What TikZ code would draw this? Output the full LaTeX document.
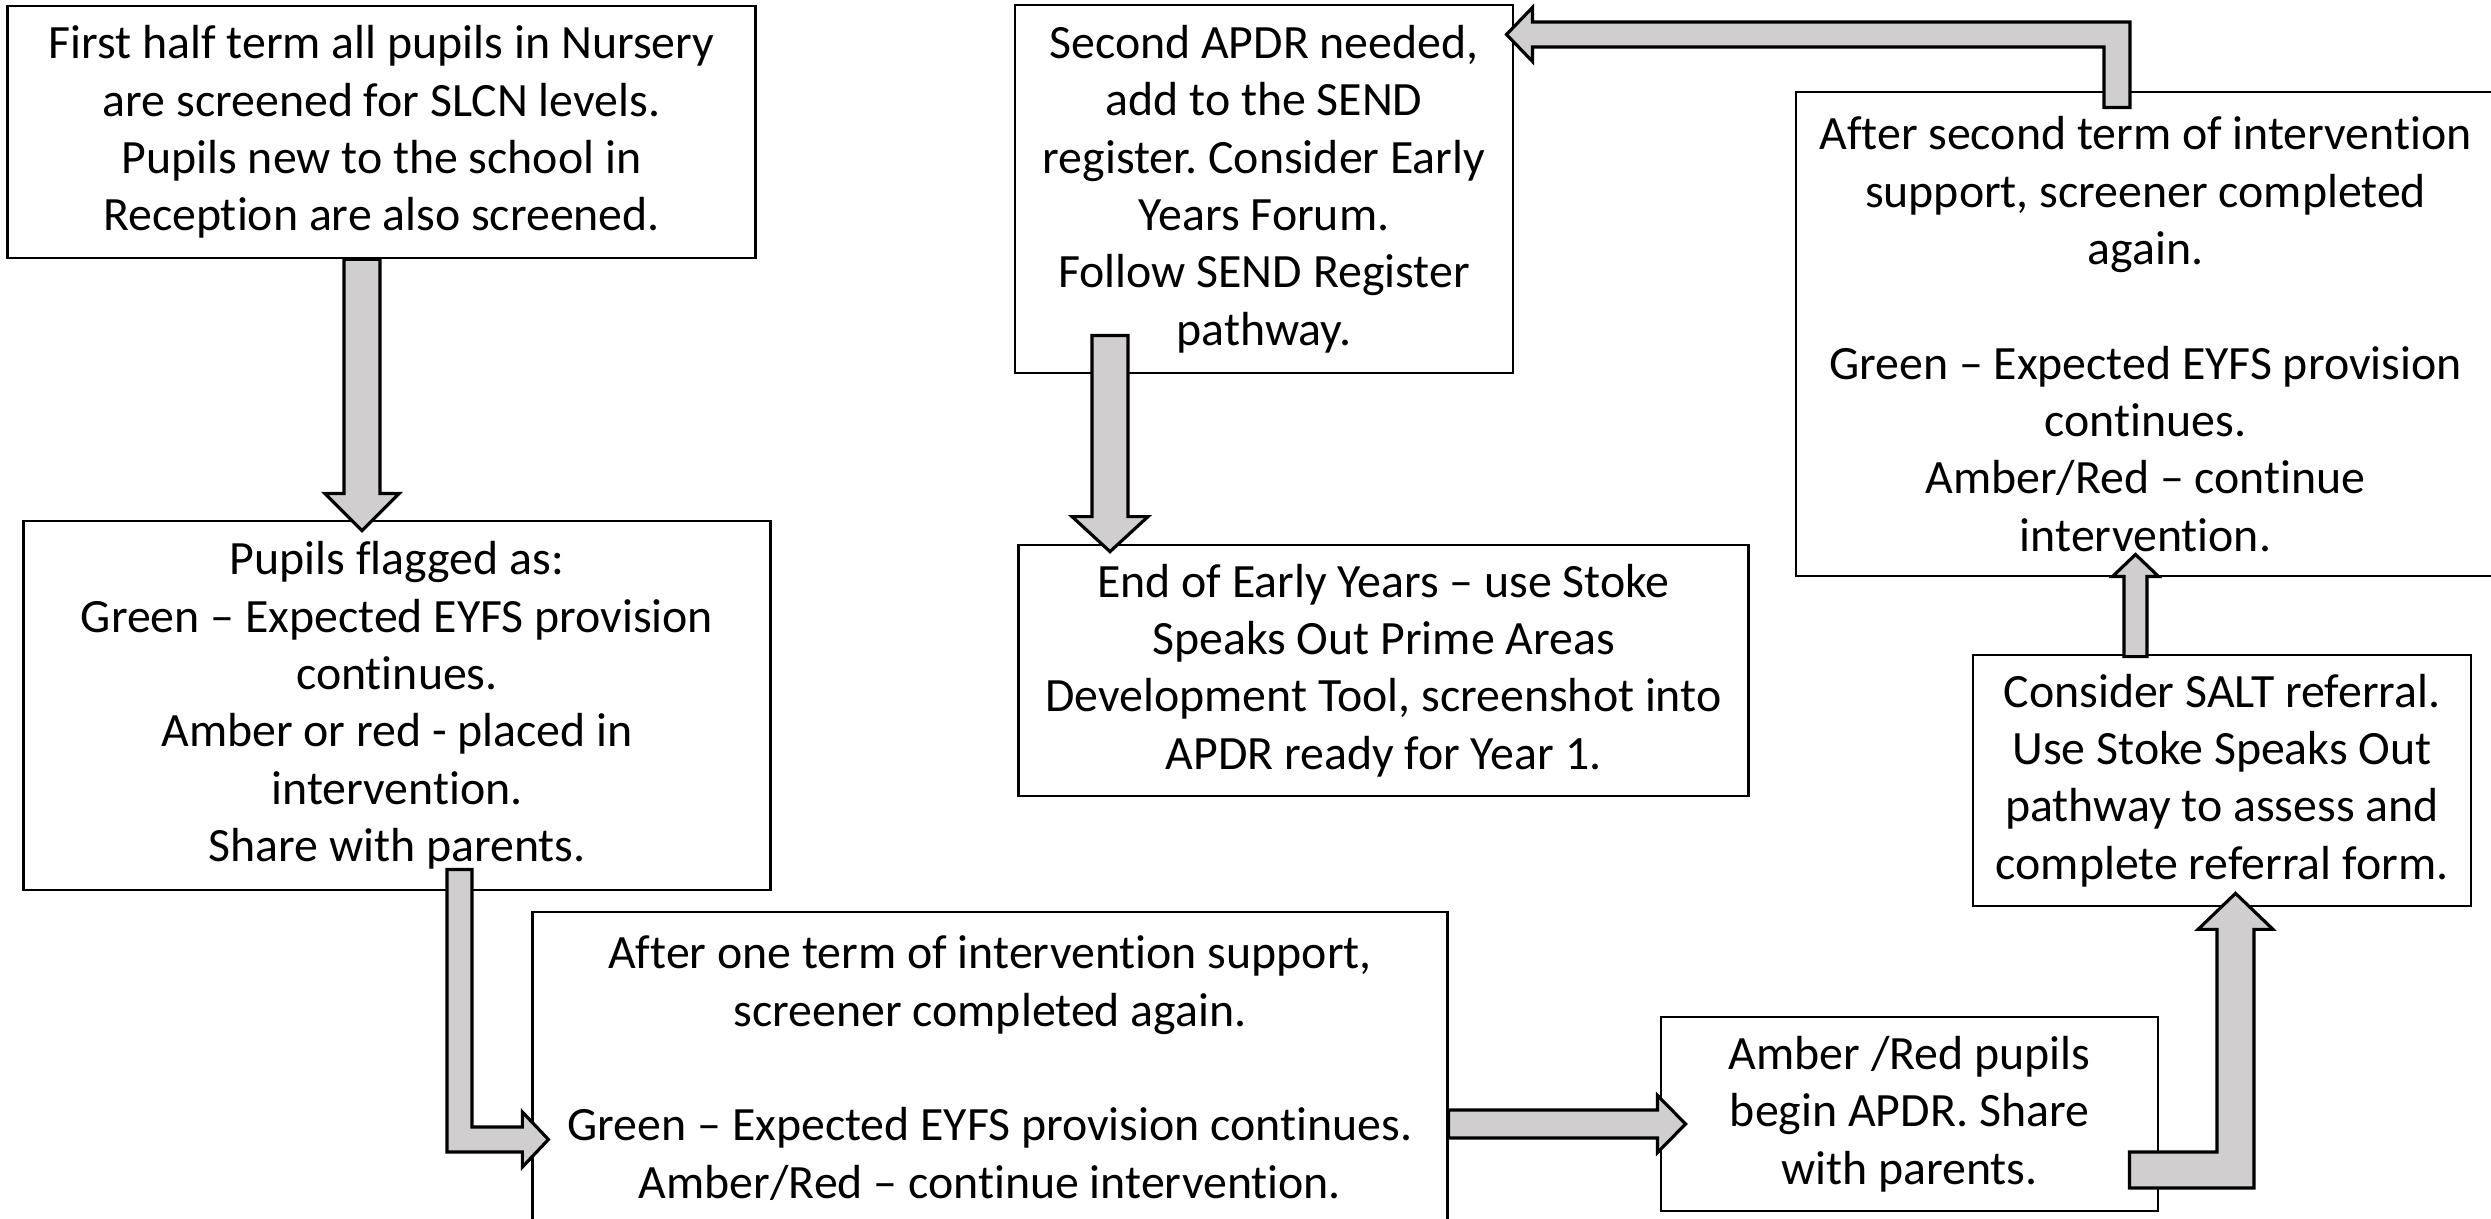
\documentclass[tikz,border=0pt]{standalone}
\usepackage{fontspec}
\setmainfont{Carlito}[Ligatures={NoCommon,NoRequired,NoContextual}]
\frenchspacing
\usetikzlibrary{calc}
\definecolor{arrowgray}{RGB}{208,206,206}
\def\pxu{0.284527pt}
\begin{document}
\begin{tikzpicture}[x=0.01cm,y=-0.01cm,
  box/.style={draw=black, line width=0.75pt, fill=white, align=center, inner sep=0pt,
    font=\fontsize{13.6pt}{16.3pt}\selectfont},
  blockarrow/.style={draw=black, line width=0.9pt, fill=arrowgray, line join=miter}]
\fill[white] (0,0) rectangle (2491,1219);
\useasboundingbox (0,0) rectangle (2491,1219);

% boxes
\node[box, minimum width=7.47cm, minimum height=2.52cm] (b1) at (381.5,132)
 {First half term all pupils in Nursery\\are screened for SLCN levels.\\Pupils new to the school in\\Reception are also screened.};
\node[box, minimum width=7.46cm, minimum height=3.69cm] (b2) at (397,705.5)
 {Pupils flagged as:\\Green – Expected EYFS provision\\continues.\\Amber or red - placed in\\intervention.\\Share with parents.};
\node[box, minimum width=9.14cm, minimum height=3.12cm] (b3) at (990,1068)
 {After one term of intervention support,\\screener completed again.\\[16.3pt]Green – Expected EYFS provision continues.\\Amber/Red – continue intervention.};
\node[box, minimum width=4.98cm, minimum height=3.68cm] (b4) at (1264,189)
 {Second APDR needed,\\add to the SEND\\register. Consider Early\\Years Forum.\\Follow SEND Register\\pathway.};
\node[box, minimum width=7.29cm, minimum height=2.51cm] (b5) at (1383.5,670.5)
 {End of Early Years – use Stoke\\Speaks Out Prime Areas\\Development Tool, screenshot into\\APDR ready for Year 1.};
\node[box, minimum width=6.99cm, minimum height=4.84cm] (b6) at (2145.5,334)
 {After second term of intervention\\support, screener completed\\again.\\[16.3pt]Green – Expected EYFS provision\\continues.\\Amber/Red – continue\\intervention.};
\node[box, minimum width=4.98cm, minimum height=2.51cm] (b7) at (2222,780.5)
 {Consider SALT referral.\\Use Stoke Speaks Out\\pathway to assess and\\complete referral form.};
\node[box, minimum width=4.97cm, minimum height=1.94cm] (b8) at (1909.5,1114)
 {Amber /Red pupils\\begin APDR. Share\\with parents.};

% connector end points
\coordinate (a1s) at ($(b1.south)+(-19.5,0)$);
\coordinate (a1t) at ($(b2.north)+(-35,11)$);
\coordinate (a7s) at ($(b4.south)+(-154,-39)$);
\coordinate (a7t) at ($(b5.north)+(-273.5,8)$);
\coordinate (a5s) at ($(b7.north)+(-86.5,3)$);
\coordinate (a5t) at ($(b6.south)+(-10,-23)$);
\coordinate (a3s) at ($(b3.east)+(0,56)$);
\coordinate (a3t) at ($(b8.west)+(26,10)$);
\coordinate (a2s) at ($(b2.south)+(62.5,-22)$);
\coordinate (a2t) at ($(b3.west)+(17,71.5)$);
\coordinate (a4s) at ($(b8.east)+(-30,56)$);
\coordinate (a4t) at ($(b7.south)+(13.5,-14)$);
\coordinate (a6s) at ($(b6.north)+(-28.5,17)$);
\coordinate (a6t) at ($(b4.east)+(-8,-154.5)$);

% straight vertical block arrows: start, tip, shaft half, head half, signed head length
\newcommand\vblock[5]{%
  \draw[blockarrow] let \p1=(#1), \p2=(#2) in
  (\x1-#3*\pxu,\y1) -- (\x1+#3*\pxu,\y1) -- (\x1+#3*\pxu,\y2+#5*\pxu)
  -- (\x1+#4*\pxu,\y2+#5*\pxu) -- (\x1,\y2) -- (\x1-#4*\pxu,\y2+#5*\pxu)
  -- (\x1-#3*\pxu,\y2+#5*\pxu) -- cycle;}

\vblock{a1s}{a1t}{18}{37}{37}
\vblock{a7s}{a7t}{18}{38}{35}
\vblock{a5s}{a5t}{11.5}{23}{-22}

% right arrow b3 -> b8
\draw[blockarrow] let \p1=(a3s), \p2=(a3t) in
  (\x1,\y1+14*\pxu) -- (\x2-28*\pxu,\y1+14*\pxu) -- (\x2-28*\pxu,\y1+28.5*\pxu)
  -- (\x2,\y1) -- (\x2-28*\pxu,\y1-28.5*\pxu) -- (\x2-28*\pxu,\y1-14*\pxu)
  -- (\x1,\y1-14*\pxu) -- cycle;

% bent arrow b2 -> b3 (down, then right)
\draw[blockarrow] let \p1=(a2s), \p2=(a2t) in
  (\x1-12.5*\pxu,\y1) -- (\x1+12.5*\pxu,\y1) -- (\x1+12.5*\pxu,\y2+12.5*\pxu)
  -- (\x2-26*\pxu,\y2+12.5*\pxu) -- (\x2-26*\pxu,\y2+27.5*\pxu) -- (\x2,\y2)
  -- (\x2-26*\pxu,\y2-27.5*\pxu) -- (\x2-26*\pxu,\y2-12.5*\pxu)
  -- (\x1-12.5*\pxu,\y2-12.5*\pxu) -- cycle;

% bent arrow b8 -> b7 (right, then up)
\draw[blockarrow] let \p1=(a4s), \p2=(a4t) in
  (\x1,\y1+18*\pxu) -- (\x2-18.5*\pxu,\y1+18*\pxu) -- (\x2-18.5*\pxu,\y2-36*\pxu)
  -- (\x2-37.5*\pxu,\y2-36*\pxu) -- (\x2,\y2) -- (\x2+37.5*\pxu,\y2-36*\pxu)
  -- (\x2+18.5*\pxu,\y2-36*\pxu) -- (\x2+18.5*\pxu,\y1-18*\pxu)
  -- (\x1,\y1-18*\pxu) -- cycle;

% bent arrow b6 -> b4 (up, then left)
\draw[blockarrow] let \p1=(a6s), \p2=(a6t) in
  (\x1-13*\pxu,\y1) -- (\x1+13*\pxu,\y1) -- (\x1+13*\pxu,\y2+12.5*\pxu)
  -- (\x2+26*\pxu,\y2+12.5*\pxu) -- (\x2+26*\pxu,\y2+27*\pxu) -- (\x2,\y2)
  -- (\x2+26*\pxu,\y2-27*\pxu) -- (\x2+26*\pxu,\y2-12.5*\pxu)
  -- (\x1-13*\pxu,\y2-12.5*\pxu) -- cycle;
\end{tikzpicture}
\end{document}
